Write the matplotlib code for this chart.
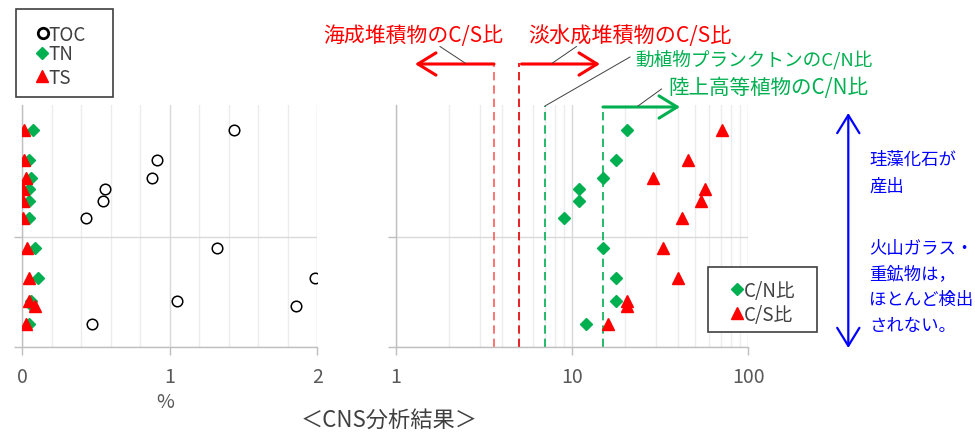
import numpy as np
import matplotlib
matplotlib.use('Agg')
import matplotlib.pyplot as plt
from matplotlib.lines import Line2D
from matplotlib.patches import Rectangle, FancyArrowPatch
import matplotlib.transforms as mtransforms
from matplotlib.ticker import FixedLocator, NullFormatter, FixedFormatter

plt.rcParams['font.family'] = ['Noto Sans CJK JP', 'DejaVu Sans']

# ---------------- data ----------------
depth = [1.973, 1.700, 1.539, 1.434, 1.327, 1.175, 0.903, 0.630, 0.418, 0.373, 0.206]
toc = [1.437, 0.916, 0.880, 0.562, 0.546, 0.433, 1.320, 1.982, 1.049, 1.857, 0.476]
tn = [0.072, 0.050, 0.059, 0.050, 0.050, 0.050, 0.090, 0.108, 0.060, 0.070, 0.045]
ts = [0.014, 0.015, 0.025, 0.010, 0.010, 0.010, 0.036, 0.045, 0.050, 0.088, 0.025]
cn_ratio = [20.5, 17.8, 15.0, 10.9, 10.9, 9.0, 15.0, 17.8, 17.8, np.nan, 12.0]
cs_ratio = [71.3, 45.3, 28.9, 56.8, 54.2, 42.3, 32.8, 39.8, 20.5, 20.6, 15.9]

left_ticks = [0, 1, 2]
left_ticklabels = ['0', '1', '2']
right_ticks = [1, 10, 100]
right_ticklabels = ['1', '10', '100']

cs_marine = 3.6
cs_fresh = 5.0
cn_plankton = 7.0
cn_land = 15.0

# ---------------- figure ----------------
W, H = 975, 432
fig = plt.figure(figsize=(W / 100, H / 100), dpi=100)


def fx(px):
    return px / W


def fy(py):
    return 1 - py / H


GREEN = '#00B050'
RED = '#FF0000'
BLUE = '#0000FF'
AXC = '#BFBFBF'
TXT = '#595959'

axL = fig.add_axes([fx(22), fy(347), fx(317.3) - fx(22), fy(105) - fy(347)])
axR = fig.add_axes([fx(395.7), fy(347), fx(748.3) - fx(395.7), fy(105) - fy(347)])

for ax in (axL, axR):
    ax.set_ylim(0, 2.2)
    for s in ('top', 'right'):
        ax.spines[s].set_visible(False)
    for s in ('left', 'bottom'):
        ax.spines[s].set_color(AXC)
        ax.spines[s].set_linewidth(1.0)
    ax.yaxis.set_major_locator(FixedLocator([0, 1]))
    ax.yaxis.set_major_formatter(NullFormatter())
    ax.yaxis.set_minor_locator(FixedLocator([]))
    ax.tick_params(axis='both', which='major', direction='out', length=5.8,
                   width=1.0, color=AXC, labelcolor=TXT, labelsize=14, pad=8.5)
    ax.tick_params(axis='both', which='minor', length=0)
    ax.grid(True, axis='y', which='major', color='#D9D9D9', lw=1.0)
    ax.set_axisbelow(True)

# left panel
axL.set_xlim(0, 2)
axL.xaxis.set_major_locator(FixedLocator(left_ticks))
axL.xaxis.set_major_formatter(FixedFormatter(left_ticklabels))
axL.xaxis.set_minor_locator(FixedLocator(np.arange(0.2, 2.0, 0.2)))
axL.grid(True, axis='x', which='major', color='#D9D9D9', lw=1.0)
axL.grid(True, axis='x', which='minor', color='#ECECEC', lw=1.0)

axL.plot(toc, depth, 'o', ms=7.6, mfc='white', mec='black', mew=1.1, ls='none', zorder=3)
axL.plot(tn, depth, 'D', ms=6.6, mfc=GREEN, mec=GREEN, ls='none', zorder=3)
axL.plot(ts, depth, '^', ms=8.5, mfc=RED, mec=RED, ls='none', zorder=4)

# right panel
axR.set_xscale('log')
axR.set_xlim(1, 100)
axR.xaxis.set_major_locator(FixedLocator(right_ticks))
axR.xaxis.set_major_formatter(FixedFormatter(right_ticklabels))
minor_r = [m * d for d in (1, 10) for m in range(2, 10)]
axR.xaxis.set_minor_locator(FixedLocator(minor_r))
axR.xaxis.set_minor_formatter(NullFormatter())
axR.grid(True, axis='x', which='major', color='#D9D9D9', lw=1.0)
axR.grid(True, axis='x', which='minor', color='#ECECEC', lw=1.0)

axR.plot(cn_ratio, depth, 'D', ms=6.6, mfc=GREEN, mec=GREEN, ls='none', zorder=3)
axR.plot(cs_ratio, depth, '^', ms=8.5, mfc=RED, mec=RED, ls='none', zorder=3)

# reference dashed lines (x in data, y in figure)
bt = mtransforms.blended_transform_factory(axR.transData, fig.transFigure)
ref_lines = [(cs_marine, 64, '#FF5B5B'), (cs_fresh, 62.5, '#E00000'),
             (cn_plankton, 106, GREEN), (cn_land, 107, GREEN)]
for xv, ytop, col in ref_lines:
    axR.add_line(Line2D([xv, xv], [fy(347), fy(ytop)], transform=bt, color=col,
                        lw=1.2, ls=(0, (5, 3)), clip_on=False, zorder=2))

# ---------------- annotations (figure pixel layout) ----------------
def arrow(x0, y0, x1, y1, col, lw, style='->'):
    a = FancyArrowPatch((fx(x0), fy(y0)), (fx(x1), fy(y1)), transform=fig.transFigure,
                        arrowstyle=f'{style},head_length=1.3,head_width=0.8',
                        mutation_scale=10, color=col, lw=lw, shrinkA=0, shrinkB=0)
    fig.add_artist(a)


def leader(x0, y0, x1, y1):
    fig.add_artist(Line2D([fx(x0), fx(x1)], [fy(y0), fy(y1)], transform=fig.transFigure,
                          color='#404040', lw=0.7))


arrow(494, 64, 415, 64, RED, 2.2)
arrow(521.5, 64, 600, 64, RED, 2.2)
arrow(603, 107, 680, 107, GREEN, 2.2)
arrow(848.3, 113, 848.3, 348, BLUE, 1.6, '<->')

leader(440, 46.5, 465, 63)
leader(576.5, 46.5, 552.5, 63)
leader(545, 106, 630, 57)
leader(638, 106, 661.5, 89)

fig.text(fx(323), fy(33), '海成堆積物のC/S比', color=RED, fontsize=15.0,
         ha='left', va='center_baseline')
fig.text(fx(528), fy(33), '淡水成堆積物のC/S比', color=RED, fontsize=15.2,
         ha='left', va='center_baseline')
fig.text(fx(635), fy(58), '動植物プランクトンのC/N比', color=GREEN, fontsize=13.4,
         ha='left', va='center_baseline')
fig.text(fx(668), fy(85), '陸上高等植物のC/N比', color=GREEN, fontsize=14.8,
         ha='left', va='center_baseline')

blue_lines = [('珪藻化石が', 158), ('産出', 184.5), ('火山ガラス・', 247), ('重鉱物は，', 272.5),
              ('ほとんど検出', 298), ('されない。', 323.5)]
for t, yy in blue_lines:
    fig.text(fx(869), fy(yy), t, color=BLUE, fontsize=12.5, ha='left', va='center_baseline')

fig.text(fx(165), fy(400), '%', color=TXT, fontsize=14, ha='center', va='center_baseline')
fig.text(fx(389), fy(418), '＜CNS分析結果＞', color='#404040', fontsize=16,
         ha='center', va='center_baseline')

# ---------------- legends (manual) ----------------
fig.add_artist(Rectangle((fx(15.7), fy(96.7)), fx(113) - fx(15.7), fy(9.3) - fy(96.7),
                         transform=fig.transFigure, fill=True, fc='white', ec='#404040', lw=1.2))
fig.add_artist(Line2D([fx(42.5)], [fy(33.3)], marker='o', ms=7.5, mfc='white', mec='black',
                      mew=2.0, transform=fig.transFigure))
fig.add_artist(Line2D([fx(42.3)], [fy(52.5)], marker='D', ms=6.0, mfc=GREEN, mec=GREEN,
                      transform=fig.transFigure))
fig.add_artist(Line2D([fx(42.3)], [fy(76)], marker='^', ms=8.5, mfc=RED, mec=RED,
                      transform=fig.transFigure))
for t, yy in [('TOC', 33.3), ('TN', 52.5), ('TS', 76)]:
    fig.text(fx(48.5), fy(yy), t, color='#404040', fontsize=13.5, ha='left',
             va='center_baseline')

fig.add_artist(Rectangle((fx(707.7), fy(332.3)), fx(816.7) - fx(707.7), fy(267.3) - fy(332.3),
                         transform=fig.transFigure, fill=True, fc='white', ec='#404040', lw=1.2))
fig.add_artist(Line2D([fx(736.7)], [fy(289.3)], marker='D', ms=6.0, mfc=GREEN, mec=GREEN,
                      transform=fig.transFigure))
fig.add_artist(Line2D([fx(736.7)], [fy(313.3)], marker='^', ms=8.5, mfc=RED, mec=RED,
                      transform=fig.transFigure))
for t, yy in [('C/N比', 289.3), ('C/S比', 313.3)]:
    fig.text(fx(744), fy(yy), t, color='#404040', fontsize=13.5, ha='left',
             va='center_baseline')

fig.savefig('out.png', dpi=100)
